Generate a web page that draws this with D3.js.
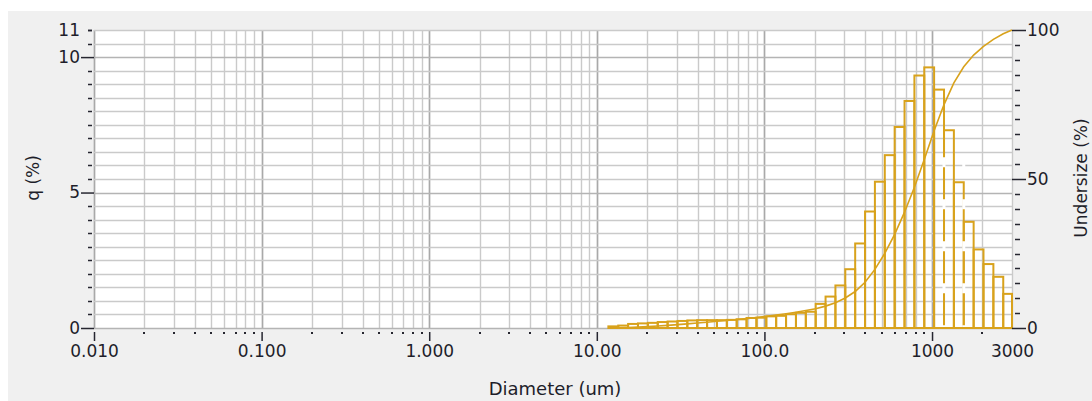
<!DOCTYPE html>
<html>
<head>
<meta charset="utf-8">
<script src="https://cdn.jsdelivr.net/npm/d3@7"></script>
<style>
  body { margin: 0; background: #ffffff; }
  svg { display: block; }
  text { font-family: "DejaVu Sans", Verdana, sans-serif; fill: #1e1e2a; }
</style>
</head>
<body>
<svg id="chart" width="1092" height="401"></svg>
<script>
// Channel edges of the size distribution (um)
const edges = [11.72, 13.42, 15.37, 17.60, 20.16, 23.09, 26.44, 30.28, 34.68, 39.72,
  45.49, 52.10, 59.67, 68.33, 78.26, 89.62, 102.6, 117.5, 134.6, 154.2,
  176.6, 202.2, 231.6, 265.2, 303.7, 347.9, 398.4, 456.2, 522.5, 598.4,
  685.4, 784.9, 898.9, 1029, 1179, 1350, 1546, 1771, 2028, 2323, 2660, 3000];

// Frequency per channel, q (%)
const qPercent = [0.06, 0.09, 0.15, 0.17, 0.19, 0.22, 0.24, 0.26, 0.28, 0.29,
  0.29, 0.29, 0.30, 0.32, 0.37, 0.38, 0.43, 0.45, 0.51, 0.56,
  0.60, 0.89, 1.16, 1.57, 2.17, 3.12, 4.30, 5.40, 6.38, 7.42,
  8.38, 9.32, 9.62, 8.80, 7.30, 5.38, 3.92, 2.90, 2.36, 1.89, 1.26];

// Cumulative undersize at each channel edge (%)
const undersize = [0, 0.06, 0.15, 0.30, 0.47, 0.66, 0.88, 1.12, 1.38, 1.66,
  1.95, 2.24, 2.53, 2.83, 3.15, 3.52, 3.90, 4.33, 4.78, 5.29,
  5.85, 6.45, 7.34, 8.50, 10.07, 12.24, 15.36, 19.66, 25.06, 31.44,
  38.86, 47.24, 56.56, 66.18, 74.98, 82.28, 87.66, 91.58, 94.48, 96.84, 98.73, 100.0];

const xTickValues = [0.01, 0.1, 1, 10, 100, 1000, 3000];
const xTickLabels = ["0.010", "0.100", "1.000", "10.00", "100.0", "1000", "3000"];
const qTickValues = [0, 5, 10, 11];
const undersizeTickValues = [0, 50, 100];

const gold = "#d8a21c";
const tickColor = "#262630";

const svg = d3.select("#chart");

// Grey window panel
svg.append("rect").attr("x", 8).attr("y", 11).attr("width", 1084).attr("height", 390)
  .attr("fill", "#f0f0f0");

const plotLeft = 94, plotRight = 1012, plotTop = 30, plotBottom = 328;

const x = d3.scaleLog().domain([0.01, 3000]).range([plotLeft, plotRight]);
const yQ = d3.scaleLinear().domain([0, 11]).range([plotBottom, plotTop]);
const yU = d3.scaleLinear().domain([0, 100]).range([plotBottom, plotTop]);

// Plot background
svg.append("rect").attr("x", plotLeft).attr("y", plotTop)
  .attr("width", plotRight - plotLeft).attr("height", plotBottom - plotTop).attr("fill", "#ffffff");

// Vertical log gridlines
const logLines = [];
for (let k = -2; k <= 3; k++) {
  for (let n = 1; n <= 9; n++) {
    const v = n * Math.pow(10, k);
    if (v <= 3000 * 1.0001) logLines.push({ v, major: n === 1 });
  }
}
const grid = svg.append("g");
grid.selectAll("line.vg").data(logLines).join("line")
  .attr("x1", d => Math.round(x(d.v)) + 0.5).attr("x2", d => Math.round(x(d.v)) + 0.5)
  .attr("y1", plotTop).attr("y2", plotBottom)
  .attr("stroke", d => d.major ? "#a9a9a9" : "#cacaca")
  .attr("stroke-width", d => d.major ? 1.7 : 1.4);

// Horizontal gridlines every 0.5 %
const hLines = d3.range(0, 11.001, 0.5);
grid.selectAll("line.hg").data(hLines).join("line")
  .attr("x1", plotLeft).attr("x2", plotRight)
  .attr("y1", d => Math.round(yQ(d)) + 0.5).attr("y2", d => Math.round(yQ(d)) + 0.5)
  .attr("stroke", d => (d % 5 === 0) ? "#b4b4b4" : "#cacaca")
  .attr("stroke-width", 1.4);

// Histogram channels
const bins = qPercent.map((q, i) => ({ lo: edges[i], hi: edges[i + 1], q }));
svg.append("g").selectAll("rect").data(bins).join("rect")
  .attr("x", d => x(d.lo))
  .attr("width", d => x(d.hi) - x(d.lo))
  .attr("y", d => yQ(d.q))
  .attr("height", d => yQ(0) - yQ(d.q))
  .attr("fill", "none")
  .attr("stroke", gold)
  .attr("stroke-width", 2);

// Broken rendering of two shared channel walls above 1000 um
[34, 36].forEach(i => {
  svg.append("line")
    .attr("x1", x(edges[i])).attr("x2", x(edges[i]))
    .attr("y1", yQ(6.3)).attr("y2", yQ(0) - 1)
    .attr("stroke", "#ffffff").attr("stroke-width", 3)
    .attr("stroke-dasharray", "10 32");
});

// Cumulative undersize curve
const pts = edges.map((d, i) => [d, undersize[i]]);
svg.append("path").datum(pts)
  .attr("fill", "none")
  .attr("stroke", gold)
  .attr("stroke-width", 1.6)
  .attr("d", d3.line().x(d => x(d[0])).y(d => yU(d[1])));

// Left axis (q %)
const minorQ = hLines.filter(v => v % 5 !== 0);
const gL = svg.append("g");
gL.selectAll("line.mn").data(minorQ).join("line")
  .attr("x1", 88).attr("x2", 92)
  .attr("y1", d => Math.round(yQ(d)) + 0.5).attr("y2", d => Math.round(yQ(d)) + 0.5)
  .attr("stroke", tickColor).attr("stroke-width", 1.5);
const axL = d3.axisLeft(yQ).tickValues(qTickValues).tickFormat(d3.format("d"))
  .tickSize(13).tickPadding(1);
const gAxL = svg.append("g").attr("transform", `translate(${plotLeft},0)`).call(axL);
gAxL.select(".domain").remove();
gAxL.selectAll(".tick line").attr("stroke", tickColor).attr("stroke-width", 1.5)
  .attr("x2", d => d === 11 ? -2 : -13).attr("x1", d => d === 11 ? -6 : 0);
gAxL.selectAll(".tick text").style("font-size", "17px").attr("fill", "#1e1e2a")
  .attr("x", -14);

// Right axis (undersize %)
const minorU = d3.range(5, 100, 5).filter(v => v !== 50);
const gR = svg.append("g");
gR.selectAll("line").data(minorU).join("line")
  .attr("x1", plotRight + 3).attr("x2", plotRight + 8)
  .attr("y1", d => Math.round(yU(d)) + 0.5).attr("y2", d => Math.round(yU(d)) + 0.5)
  .attr("stroke", tickColor).attr("stroke-width", 1.5);
const axR = d3.axisRight(yU).tickValues(undersizeTickValues).tickFormat(d3.format("d"))
  .tickSize(14).tickPadding(1);
const gAxR = svg.append("g").attr("transform", `translate(${plotRight},0)`).call(axR);
gAxR.select(".domain").remove();
gAxR.selectAll(".tick line").attr("stroke", tickColor).attr("stroke-width", 1.5);
gAxR.selectAll(".tick text").style("font-size", "17px").attr("fill", "#1e1e2a");

// Bottom axis (diameter)
const minorX = logLines.filter(d => !d.major && d.v < 3000).map(d => d.v);
const gB = svg.append("g");
gB.selectAll("rect").data(minorX).join("rect")
  .attr("x", d => Math.round(x(d)) - 1).attr("y", plotBottom + 4)
  .attr("width", 2).attr("height", 2).attr("fill", tickColor);
const axB = d3.axisBottom(x).tickValues(xTickValues)
  .tickFormat((d, i) => xTickLabels[i]).tickSize(13).tickPadding(6);
const gAxB = svg.append("g").attr("transform", `translate(0,${plotBottom})`).call(axB);
gAxB.select(".domain").remove();
gAxB.selectAll(".tick line").attr("stroke", tickColor).attr("stroke-width", 1.5)
  .attr("y1", 4).attr("opacity", d => d === 3000 ? 0 : 1);
gAxB.selectAll(".tick text").style("font-size", "17px").attr("fill", "#1e1e2a")
  .attr("y", 17);

// Axis titles
svg.append("text").attr("transform", "translate(33,178) rotate(-90)")
  .attr("text-anchor", "middle").attr("dominant-baseline", "central")
  .style("font-size", "17px").text("q (%)");
svg.append("text").attr("transform", "translate(1087,178) rotate(-90)")
  .attr("text-anchor", "middle")
  .style("font-size", "17px").text("Undersize (%)");
svg.append("text").attr("x", 555).attr("y", 395)
  .attr("text-anchor", "middle")
  .style("font-size", "18px").text("Diameter (um)");
</script>
</body>
</html>
